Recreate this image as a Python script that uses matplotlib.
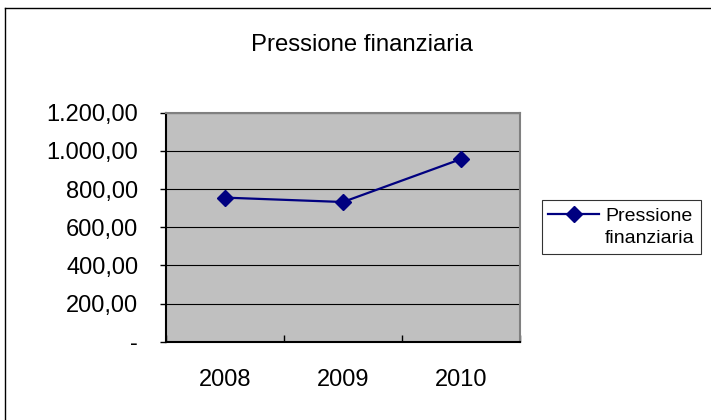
import matplotlib
matplotlib.use("Agg")
import matplotlib.pyplot as plt
from matplotlib.lines import Line2D

plt.rcParams['font.family'] = ['Liberation Sans', 'DejaVu Sans']

# data
years = ["2008", "2009", "2010"]
pressione = [755, 732, 957]
yticks = [0, 200, 400, 600, 800, 1000, 1200]
ytick_labels = ["-", "200,00", "400,00", "600,00", "800,00", "1.000,00", "1.200,00"]

fig = plt.figure(figsize=(7.11, 4.2), dpi=100)
fig.patch.set_facecolor("white")
ax = fig.add_axes([166 / 711, 78.3 / 420, 354 / 711, 229 / 420])
ax.set_facecolor("#c0c0c0")

x = list(range(len(years)))
line, = ax.plot(x, pressione, color="#000080", lw=1.6, marker="D",
                markersize=8.5, markerfacecolor="#000080", markeredgecolor="#000080",
                zorder=3)

ax.set_xlim(-0.5, len(years) - 0.5)
ax.set_ylim(0, 1200)
ax.set_yticks(yticks)
ax.set_yticklabels(ytick_labels)
ax.set_xticks(x)
ax.set_xticklabels(years)
ax.set_xticks([i - 0.5 for i in range(len(years) + 1)], minor=True)

ax.grid(axis="y", color="black", lw=0.8, zorder=1)
ax.set_axisbelow(True)

ax.tick_params(axis="y", direction="out", length=4, width=1, pad=16, labelsize=17)
ax.tick_params(axis="x", which="major", length=0, pad=20, labelsize=17)
ax.tick_params(axis="x", which="minor", direction="in", length=5, width=1)

for side in ["top", "right"]:
    ax.spines[side].set_color("#808080")
    ax.spines[side].set_linewidth(1.5)
for side in ["left", "bottom"]:
    ax.spines[side].set_color("black")
    ax.spines[side].set_linewidth(1.5)

fig.text(362 / 711, 1 - 45 / 420, "Pressione finanziaria", ha="center", va="center",
         fontsize=17.2)

# legend: marker line on the first row, second row of the label below it
blank = Line2D([], [], alpha=0)
leg = fig.legend([line, blank], ["Pressione", "finanziaria"], loc="center",
                 bbox_to_anchor=(621.5 / 711, 1 - 227 / 420), fontsize=14,
                 frameon=True, fancybox=False, handlelength=2.6, handletextpad=0.3,
                 labelspacing=0.25, borderpad=0.35, borderaxespad=0)
leg.get_frame().set_edgecolor("black")
leg.get_frame().set_linewidth(0.8)

# outer chart border
fig.add_artist(Line2D([4.5 / 711, 1], [1 - 7.5 / 420, 1 - 7.5 / 420],
                      transform=fig.transFigure, color="black", lw=1))
fig.add_artist(Line2D([4.5 / 711, 4.5 / 711], [0, 1 - 7.5 / 420],
                      transform=fig.transFigure, color="black", lw=1))

fig.savefig("out.png", dpi=100)
